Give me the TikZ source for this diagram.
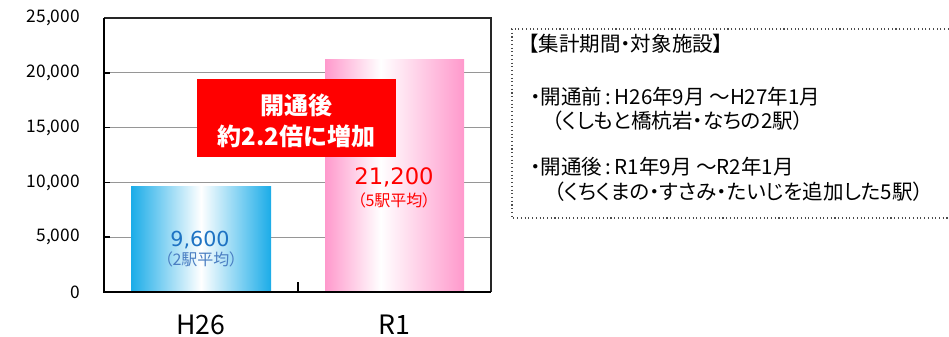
\documentclass[tikz,border=0pt]{standalone}
\usepackage{fontspec}
\setmainfont{Noto Sans CJK JP}
\newfontfamily\jpprop[RawFeature=+palt]{Noto Sans CJK JP}
\newfontfamily\numfont{DejaVu Sans}
\definecolor{barblue}{RGB}{27,172,232}
\definecolor{barpink}{RGB}{255,153,204}
\definecolor{numblue}{RGB}{30,115,195}
\definecolor{subblue}{RGB}{74,126,194}
\definecolor{gridgray}{RGB}{150,150,150}
\pgfdeclarehorizontalshading{blueshade}{100bp}{color(0bp)=(barblue); color(25bp)=(barblue); color(50bp)=(white); color(75bp)=(barblue); color(100bp)=(barblue)}
\pgfdeclarehorizontalshading{pinkshade}{100bp}{color(0bp)=(barpink); color(25bp)=(barpink); color(45bp)=(white); color(75bp)=(barpink); color(100bp)=(barpink)}
\tikzset{
  ticklabel/.style={anchor=east, inner sep=0pt, font=\fontsize{13}{15}\selectfont},
  catlabel/.style={inner sep=0pt, font=\fontsize{20}{22}\selectfont},
  boxtext/.style={anchor=west, inner sep=0pt, font=\jpprop\fontsize{15.4}{17}\selectfont},
  redtext/.style={text=white, inner sep=0pt, font=\fontsize{18}{20}\selectfont\bfseries},
  gridline/.style={draw=gridgray, line width=0.9pt},
}
\begin{document}
\begin{tikzpicture}[x=0.75pt,y=-0.75pt]
\useasboundingbox (0,0) rectangle (949,336);
\clip (0,0) rectangle (949,336);
% grid lines (values in thousands)
\foreach \v in {5,10,15,20}{
  \draw[gridline] (104,{292-\v*10.96}) -- (491,{292-\v*10.96});
  \draw[black, line width=1.2pt] (104,{292-\v*10.96}) -- (110,{292-\v*10.96});
}
% tick labels
\foreach \v/\t in {0/0,5/{5,000},10/{10,000},15/{15,000},20/{20,000},25/{25,000}}{
  \node[ticklabel] (t\v) at (80,{292-\v*10.96}) {\t};
}
% bars
\path[shading=blueshade] (131,{292-9.6*10.96}) rectangle (271,292);
\path[shading=pinkshade] (325,{292-21.2*10.96}) rectangle (464,292);
% frame
\draw[black!85, line width=1.3pt] (104,18) -- (491,18) -- (491,292);
\draw[black, line width=1.6pt] (104,18) -- (104,292) -- (491,292);
\draw[black, line width=1.2pt] (298,282) -- (298,292);
% red box
\node[fill=red, minimum width=149.25pt, minimum height=58.5pt, inner sep=0pt] (redbox) at (296.5,118) {};
\node[redtext] (rb1) at (296.5,105) {開通後};
\node[redtext] (rb2) at (296.5,136) {約2.2倍に増加};
% bar value labels
\node[text=numblue, font=\numfont\fontsize{15.5}{17}\selectfont, inner sep=0pt] (v1) at (200,240) {9,600};
\node[text=subblue, font=\jpprop\fontsize{12}{14}\selectfont, inner sep=0pt] (s1) at (201,259) {（2駅平均）};
\node[text=red, font=\numfont\fontsize{17}{19}\selectfont, inner sep=0pt] (v2) at (394,177) {21,200};
\node[text=red, font=\jpprop\fontsize{12}{14}\selectfont, inner sep=0pt] (s2) at (394,200) {（5駅平均）};
% category labels
\node[catlabel] (c1) at (201,325) {H26};
\node[catlabel] (c2) at (394,325) {R1};
% info box
\draw[black!70, dotted, line width=0.8pt] (960,29) -- (512,29) -- (512,218) -- (960,218);
\node[boxtext] (i0) at (528,44) {【集計期間・対象施設】};
\node[boxtext] (i1) at (530,97) {・開通前\,:\,H26年9月 ～H27年1月};
\node[boxtext] (i2) at (552,121) {（くしもと橋杭岩・なちの2駅）};
\node[boxtext] (i3) at (530,167) {・開通後\,:\,R1年9月 ～R2年1月};
\node[boxtext] (i4) at (554,192) {（くちくまの・すさみ・たいじを追加した5駅）};
\end{tikzpicture}
\end{document}
